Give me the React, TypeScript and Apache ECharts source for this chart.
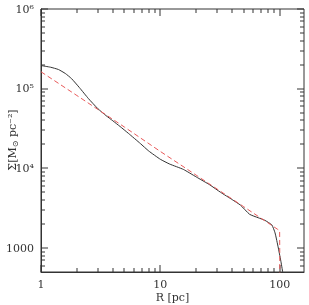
import React, { useEffect, useRef } from "react";
import * as echarts from "echarts";

// Black solid profile: radius R [pc] and surface density [Msun pc^-2]
const blackR = [1, 1.2, 1.4, 1.6, 1.8, 2.1, 2.5, 3, 3.5, 4, 4.6, 5.4, 6.8, 8, 10, 12, 15.6, 20, 26, 32, 40, 47, 56, 66, 75, 86, 91.5, 97.5, 103, 108];
const blackS = [1.95e5, 1.86e5, 1.74e5, 1.55e5, 1.34e5, 1.03e5, 7.5e4, 5.6e4, 4.6e4, 3.95e4, 3.35e4, 2.75e4, 2.05e4, 1.65e4, 1.3e4, 1.13e4, 9.7e3, 7.8e3, 6.2e3, 5.0e3, 4.05e3, 3.45e3, 2.65e3, 2.4e3, 2.23e3, 1.95e3, 1.55e3, 1.0e3, 650, 420];

// Red dashed model profile
const redR = [1, 2, 5, 10, 20, 50, 96, 100, 100.5];
const redS = [1.63e5, 8.2e4, 3.3e4, 1.63e4, 8.2e3, 3.3e3, 1.72e3, 1.65e3, 300];

// Axis ranges and tick values
const xMin = 1;
const xMax = 160;
const yMin = 500;
const yMax = 1e6;
const xMajorTicks = [1, 10, 100];
const yMajorTicks = [1000, 1e4, 1e5, 1e6];
const xMinorTicks = [2, 3, 4, 5, 6, 7, 8, 9, 20, 30, 40, 50, 60, 70, 80, 90];
const yMinorTicks = [600, 700, 800, 900, 2000, 3000, 4000, 5000, 6000, 7000, 8000, 9000, 2e4, 3e4, 4e4, 5e4, 6e4, 7e4, 8e4, 9e4, 2e5, 3e5, 4e5, 5e5, 6e5, 7e5, 8e5, 9e5];

const FONT = "DejaVu Serif";
const AX = "#333";
const MAJOR = 7;
const MINOR = 4;

const isPow10 = (v: number) => Math.abs(Math.log10(v) - Math.round(Math.log10(v))) < 1e-6;
const supMap: Record<string, string> = { "0": "⁰", "1": "¹", "2": "²", "3": "³", "4": "⁴", "5": "⁵", "6": "⁶", "7": "⁷", "8": "⁸", "9": "⁹" };

// tick items: [x, y, side(0 = first edge, 1 = opposite edge), length]
const xTickData: number[][] = [];
[0, 1].forEach((side) => {
  xMajorTicks.forEach((v) => xTickData.push([v, 1000, side, MAJOR]));
  xMinorTicks.forEach((v) => xTickData.push([v, 1000, side, MINOR]));
});
const yTickData: number[][] = [];
[0, 1].forEach((side) => {
  yMajorTicks.forEach((v) => yTickData.push([10, v, side, MAJOR]));
  yMinorTicks.forEach((v) => yTickData.push([10, v, side, MINOR]));
});

export default function App() {
  const ref = useRef<HTMLDivElement>(null);
  useEffect(() => {
    if (!ref.current) return;
    const chart = echarts.init(ref.current, undefined, { renderer: "svg" });
    const xTick = (params: any, api: any) => {
      const p = api.coord([api.value(0), api.value(1)]);
      const cs = params.coordSys;
      const len = api.value(3);
      const x = Math.round(p[0]) - 0.5;
      const y = api.value(2) === 0 ? cs.y + cs.height - len : cs.y;
      return { type: "rect", shape: { x: x, y: y, width: 1, height: len }, style: { fill: AX } };
    };
    const yTick = (params: any, api: any) => {
      const p = api.coord([api.value(0), api.value(1)]);
      const cs = params.coordSys;
      const len = api.value(3);
      const y = Math.round(p[1]) - 0.5;
      const x = api.value(2) === 0 ? cs.x : cs.x + cs.width - len;
      return { type: "rect", shape: { x: x, y: y, width: len, height: 1 }, style: { fill: AX } };
    };
    chart.setOption({
      animation: false,
      grid: { left: 41, top: 9, right: 5, bottom: 33, outerBoundsMode: "none", show: true, borderColor: AX, borderWidth: 1 },
      xAxis: {
        type: "log",
        min: xMin,
        max: xMax,
        axisLine: { show: true, lineStyle: { color: AX, width: 1 } },
        axisTick: { show: false },
        splitLine: { show: false },
        axisLabel: {
          show: true,
          margin: 7,
          color: AX,
          fontFamily: FONT,
          fontSize: 11,
          formatter: (v: number) => (isPow10(v) ? String(Math.round(v)) : ""),
        },
      },
      yAxis: {
        type: "log",
        min: yMin,
        max: yMax,
        axisLine: { show: true, lineStyle: { color: AX, width: 1 } },
        axisTick: { show: false },
        splitLine: { show: false },
        axisLabel: {
          show: true,
          margin: 7,
          color: AX,
          fontFamily: FONT,
          fontSize: 11,
          formatter: (v: number) => {
            if (!isPow10(v)) return "";
            const e = Math.round(Math.log10(v));
            if (e <= 3) return String(Math.round(v));
            return "10" + String(e).split("").map((c) => supMap[c]).join("");
          },
        },
      },
      graphic: [
        {
          type: "text",
          x: 12,
          y: 140,
          rotation: Math.PI / 2,
          style: {
            text: "{n|Σ[M}{s|⊙}{n| pc⁻²]}",
            align: "center",
            verticalAlign: "middle",
            rich: {
              n: { fontFamily: FONT, fontSize: 11, fill: AX, lineHeight: 14, verticalAlign: "middle" },
              s: { fontFamily: FONT, fontSize: 8, fill: AX, lineHeight: 14, verticalAlign: "bottom" },
            },
          },
        },
        {
          type: "text",
          x: 172.5,
          y: 297,
          style: {
            text: "R [pc]",
            align: "center",
            verticalAlign: "middle",
            fontFamily: FONT,
            fontSize: 11,
            fill: AX,
          },
        },
      ],
      series: [
        {
          type: "line",
          data: blackR.map((r, i) => [r, blackS[i]]),
          showSymbol: false,
          smooth: 0.15,
          lineStyle: { color: "#333", width: 1 },
        },
        {
          type: "line",
          data: redR.map((r, i) => [r, redS[i]]),
          showSymbol: false,
          lineStyle: { color: "#e85a5a", width: 1, type: [5, 3] },
        },
        { type: "custom", data: xTickData, renderItem: xTick },
        { type: "custom", data: yTickData, renderItem: yTick },
      ],
    });
    return () => chart.dispose();
  }, []);
  return <div ref={ref} style={{ width: 309, height: 305, position: "fixed", left: 0, top: 0 }} />;
}
